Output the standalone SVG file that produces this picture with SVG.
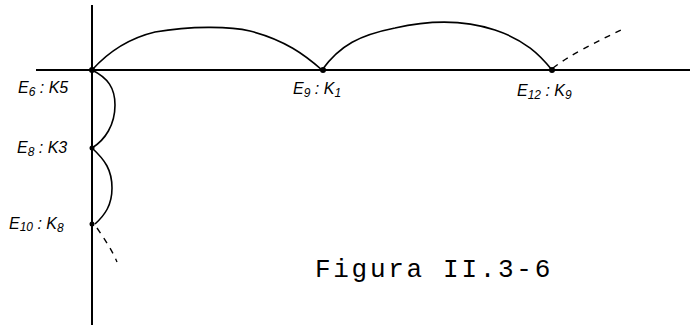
<svg xmlns="http://www.w3.org/2000/svg" width="690" height="325" viewBox="0 0 690 325">
<style>
.ax{stroke:#000;stroke-width:2;fill:none}
.arc{stroke:#000;stroke-width:1.6;fill:none}
.dash{stroke:#000;stroke-width:1.4;fill:none;stroke-dasharray:6,6}
.lbl{font-family:"Liberation Sans",Arial,sans-serif;font-style:italic;font-size:16px;fill:#000}
.sub{font-size:12px}
.cap{font-family:"Liberation Mono","Courier New",monospace;font-size:26px;letter-spacing:2.7px;fill:#000}
.dot{fill:#000}
</style>
<rect width="690" height="325" fill="#fff"/>
<g id="connectors">
<line class="ax" x1="92" y1="5" x2="92" y2="325"/>
<line class="ax" x1="36" y1="70" x2="690" y2="70"/>
<path class="arc" d="M92,70 C110,50 130,38 155,32 C190,26 230,26 250,31 C285,40 305,55 322,70"/>
<path class="arc" d="M322,70 C340,45 360,35 395,28 C430,20 465,20 495,30 C525,40 540,55 552,70"/>
<path class="dash" d="M553,68 C570,55 590,45 625,28"/>
<path class="arc" d="M92,70 C108,78 115,88 115,105 C115,125 105,140 92,148"/>
<path class="arc" d="M92,148 C105,160 112,170 112,188 C112,205 105,215 95,224"/>
<path class="dash" d="M97,228 C105,240 112,250 117,262"/>
</g>
<g id="n-e6"><circle class="dot" cx="92" cy="70" r="3"/><text class="lbl" x="18" y="93">E<tspan class="sub" dy="3">6</tspan><tspan dy="-3"> : K5</tspan></text></g>
<g id="n-e9"><circle class="dot" cx="323" cy="70" r="3"/><text class="lbl" x="293" y="94">E<tspan class="sub" dy="3">9</tspan><tspan dy="-3"> : K</tspan><tspan class="sub" dy="3">1</tspan></text></g>
<g id="n-e12"><circle class="dot" cx="552" cy="70" r="3"/><text class="lbl" x="517" y="96">E<tspan class="sub" dy="3">12</tspan><tspan dy="-3"> : K</tspan><tspan class="sub" dy="3">9</tspan></text></g>
<g id="n-e8"><circle class="dot" cx="92" cy="148" r="2.5"/><text class="lbl" x="17" y="153">E<tspan class="sub" dy="3">8</tspan><tspan dy="-3"> : K3</tspan></text></g>
<g id="n-e10"><circle class="dot" cx="92" cy="224" r="2.5"/><text class="lbl" x="9" y="229">E<tspan class="sub" dy="2">10</tspan><tspan dy="-2"> : K</tspan><tspan class="sub" dy="3">8</tspan></text></g>
<text class="cap" x="315" y="277">Figura II.3-6</text>
</svg>
